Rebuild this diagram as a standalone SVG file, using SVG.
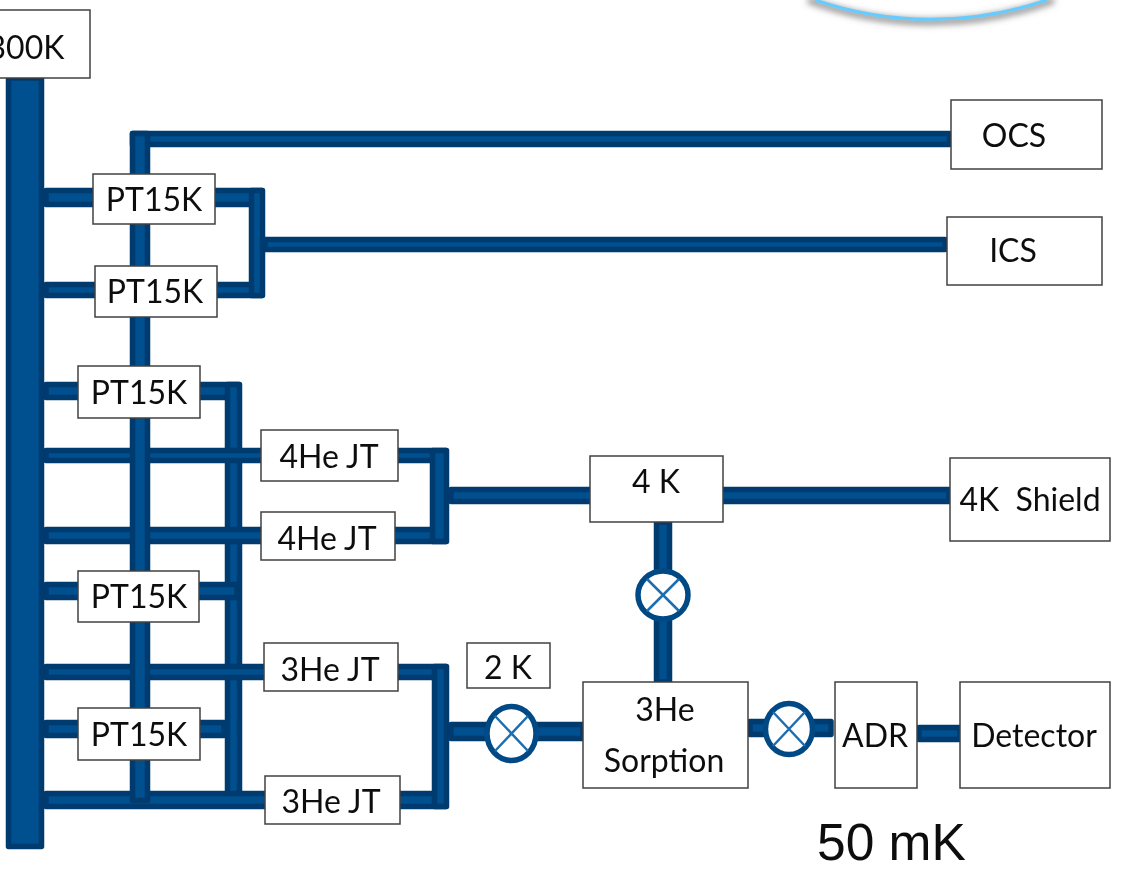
<svg xmlns="http://www.w3.org/2000/svg" width="1121" height="872" viewBox="0 0 1121 872">
<style>
.b{fill:#00508f;stroke:#003a70;stroke-width:5.500;stroke-linejoin:round}
.n{fill:#fff;stroke:#404040;stroke-width:1.5}
.t{font-family:Lato,"Open Sans",sans-serif;font-size:32px;fill:#111;text-anchor:middle}
.v{fill:#fff;stroke:#004a85;stroke-width:5.500}
.x{stroke:#1f6eb0;stroke-width:2.500;fill:none}
</style>
<defs>
<filter id="s" x="-20%" y="-80%" width="140%" height="300%"><feGaussianBlur stdDeviation="3"/></filter>
<filter id="f" x="-2%" y="-2%" width="104%" height="104%"><feGaussianBlur stdDeviation="0.5"/></filter>
</defs>
<rect width="1121" height="872" fill="#fff"/>
<g filter="url(#f)">
<g id="dome">
<path d="M808 -5A357 357 0 0 0 1054 -5" fill="none" stroke="#999" stroke-width="7" filter="url(#s)" transform="translate(0 5)"/>
<path d="M815 0A357 357 0 0 0 1047 0" fill="none" stroke="#66ccff" stroke-width="3"/>
</g>
<g id="connectors">
<rect class="b" x="132.500" y="133.500" width="817" height="11"/>
<rect class="b" x="46" y="190.500" width="216" height="14"/>
<rect class="b" x="46" y="284.500" width="216" height="11"/>
<rect class="b" x="251.500" y="190.500" width="11" height="105"/>
<rect class="b" x="265" y="239.500" width="680" height="10"/>
<rect class="b" x="46" y="384.500" width="193" height="13"/>
<rect class="b" x="227.500" y="384.500" width="12" height="413"/>
<rect class="b" x="46" y="450.500" width="400" height="10"/>
<rect class="b" x="46" y="529.500" width="400" height="12"/>
<rect class="b" x="432.500" y="450.500" width="14" height="91"/>
<rect class="b" x="451" y="489.500" width="498" height="12"/>
<rect class="b" x="46" y="584.500" width="191" height="13"/>
<rect class="b" x="46" y="666.500" width="400" height="11"/>
<rect class="b" x="46" y="722.500" width="178" height="13"/>
<rect class="b" x="46" y="793.500" width="400" height="13"/>
<rect class="b" x="434.500" y="666.500" width="12" height="140"/>
<rect class="b" x="132.500" y="133.500" width="15" height="667"/>
<rect class="b" x="451" y="724.500" width="132" height="14"/>
<rect class="b" x="656.500" y="522" width="13" height="160"/>
<rect class="b" x="750" y="721.500" width="81" height="13"/>
<rect class="b" x="919" y="727.500" width="41" height="12"/>
<rect class="b" x="8.500" y="78" width="33" height="768.500"/>
</g>
<g id="valve-4k"><ellipse class="v" cx="663" cy="595" rx="25" ry="24"/><path class="x" d="M647 579L679 611M679 579L647 611"/></g>
<g id="valve-2k"><ellipse class="v" cx="511.500" cy="733.500" rx="24.500" ry="27"/><path class="x" d="M495 716L528 751M528 716L495 751"/></g>
<g id="valve-adr"><ellipse class="v" cx="789" cy="729" rx="23.500" ry="25.500"/><path class="x" d="M773 712L805 746M805 712L773 746"/></g>
<g id="n300k"><rect class="n" x="-6" y="10" width="96" height="68"/><text class="t" x="26" y="59">300K</text></g>
<g id="ocs"><rect class="n" x="951" y="100" width="151" height="69"/><text class="t" x="1014" y="147">OCS</text></g>
<g id="ics"><rect class="n" x="947" y="217" width="155" height="68"/><text class="t" x="1013" y="262">ICS</text></g>
<g id="pt1"><rect class="n" x="93" y="174" width="122" height="50"/><text class="t" x="154" y="211">PT15K</text></g>
<g id="pt2"><rect class="n" x="95" y="266" width="122" height="51"/><text class="t" x="155" y="303">PT15K</text></g>
<g id="pt3"><rect class="n" x="78" y="366" width="122" height="52"/><text class="t" x="139" y="404">PT15K</text></g>
<g id="pt4"><rect class="n" x="78" y="571" width="121" height="51"/><text class="t" x="139" y="608">PT15K</text></g>
<g id="pt5"><rect class="n" x="78" y="708" width="122" height="52"/><text class="t" x="139" y="746">PT15K</text></g>
<g id="he4a"><rect class="n" x="261" y="430" width="137" height="51"/><text class="t" x="329" y="468">4He JT</text></g>
<g id="he4b"><rect class="n" x="261" y="512" width="134" height="48"/><text class="t" x="327" y="550">4He JT</text></g>
<g id="he3a"><rect class="n" x="264" y="643" width="134" height="48"/><text class="t" x="330" y="681">3He JT</text></g>
<g id="he3b"><rect class="n" x="265" y="776" width="135" height="48"/><text class="t" x="331" y="813">3He JT</text></g>
<g id="k4"><rect class="n" x="590" y="456" width="133" height="66"/><text class="t" x="656" y="493">4 K</text></g>
<g id="shield"><rect class="n" x="950" y="458" width="160" height="83"/><text class="t" x="1030" y="511" xml:space="preserve">4K  Shield</text></g>
<g id="k2"><rect class="n" x="467" y="643" width="83" height="45"/><text class="t" x="508" y="679">2 K</text></g>
<g id="sorption"><rect class="n" x="583" y="682" width="165" height="106"/><text class="t" x="665" y="721">3He</text><text class="t" x="664" y="772">Sorption</text></g>
<g id="adr"><rect class="n" x="835" y="682" width="82" height="106"/><text class="t" x="875" y="747">ADR</text></g>
<g id="detector"><rect class="n" x="960" y="682" width="150" height="106"/><text class="t" x="1034" y="747">Detector</text></g>
<text x="817" y="860" font-family="Liberation Sans,Arial,sans-serif" font-size="51.500" fill="#111">50 mK</text>
</g>
</svg>
